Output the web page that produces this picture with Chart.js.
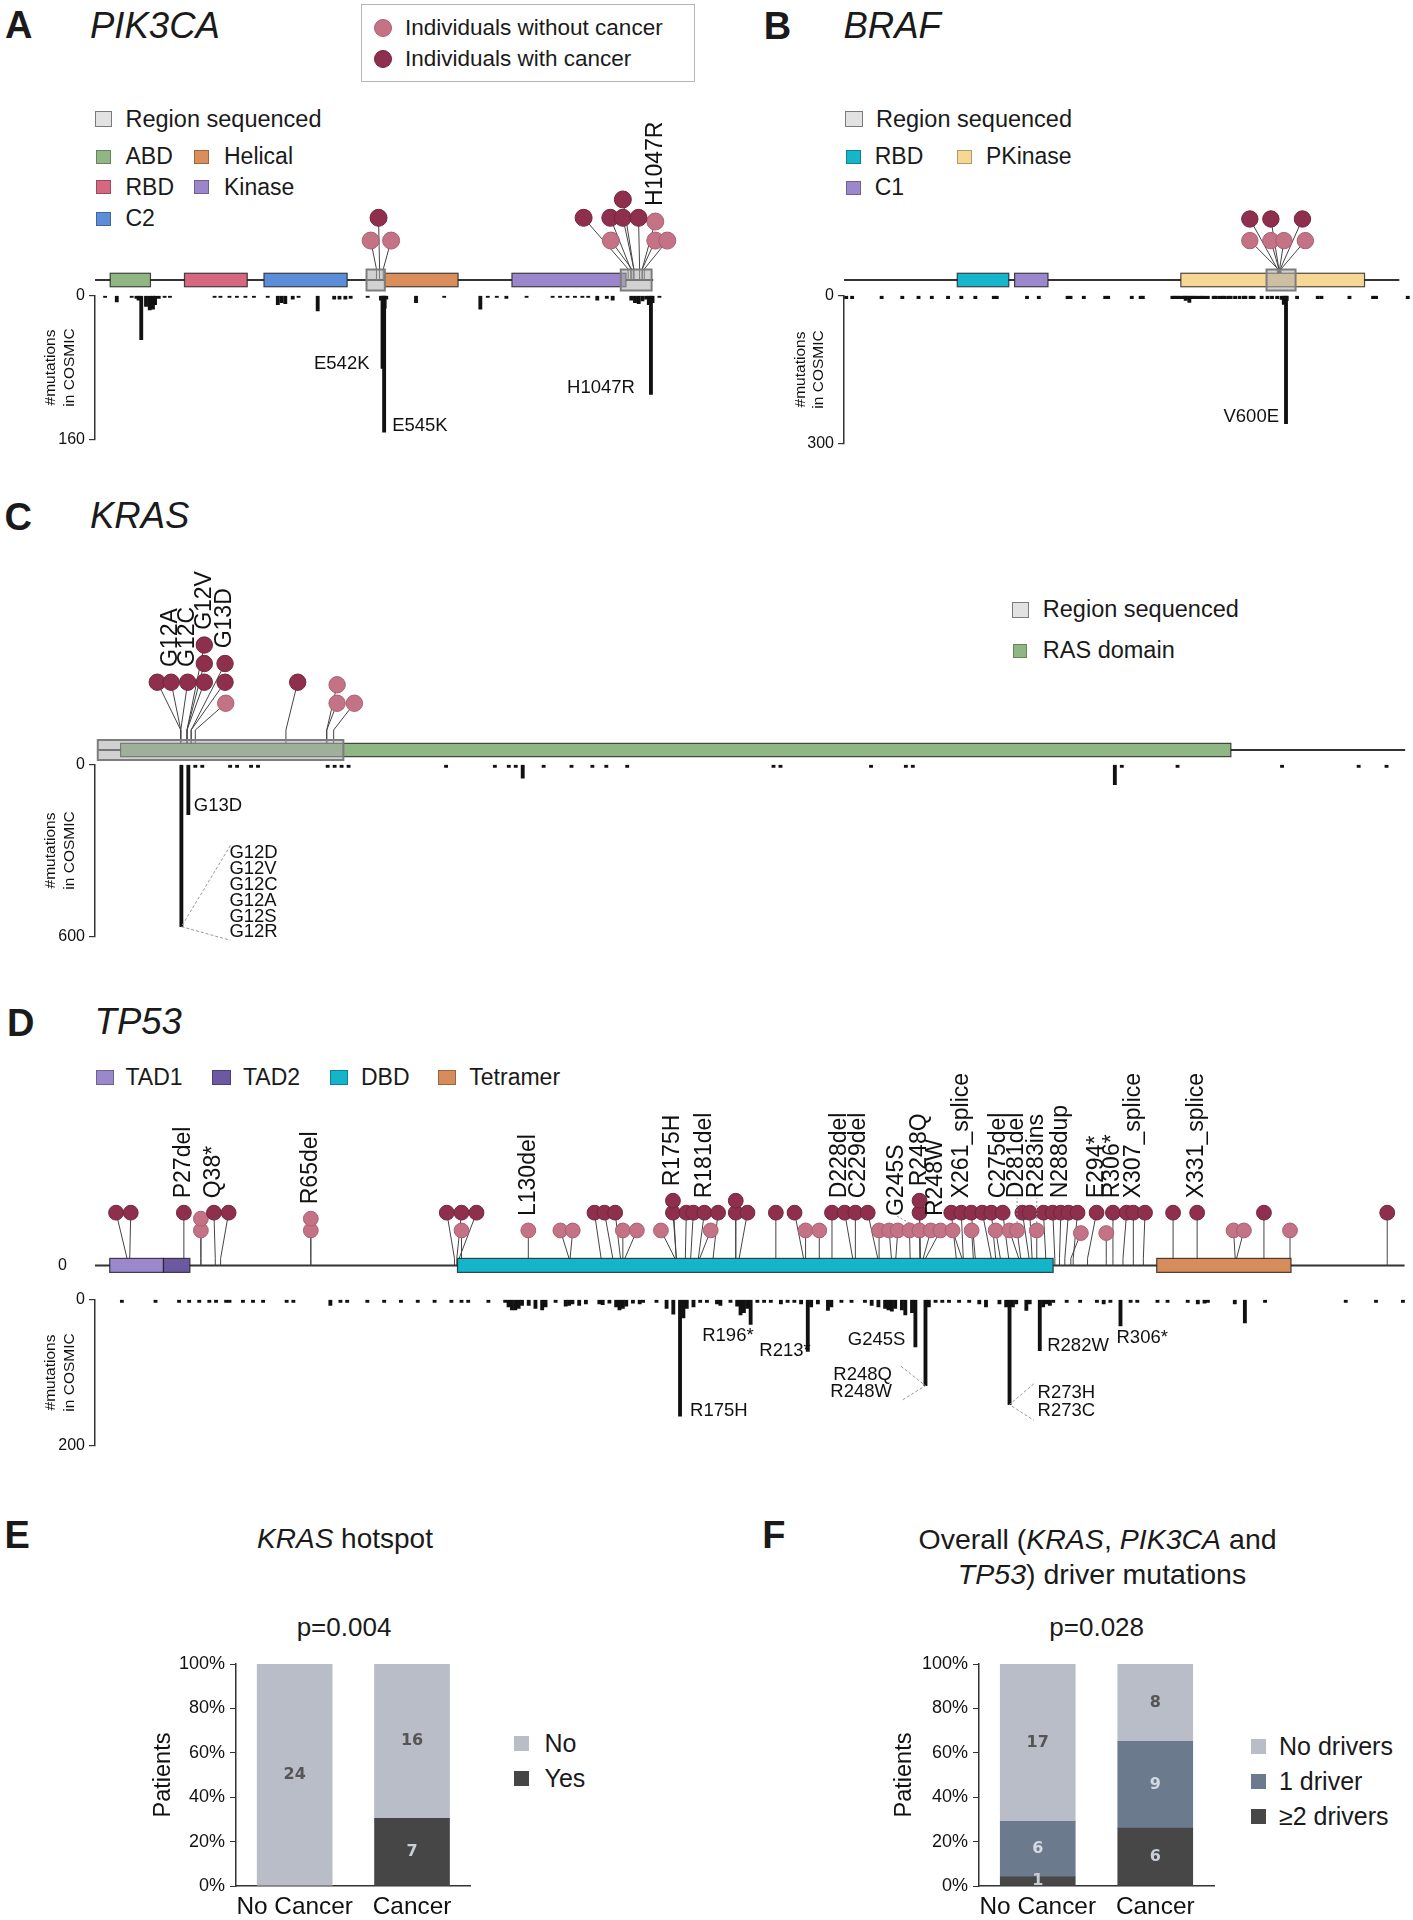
<!DOCTYPE html>
<html>
<head>
<meta charset="utf-8">
<script src="https://cdn.jsdelivr.net/npm/chart.js@4.4.1/dist/chart.umd.min.js"></script>
<style>
  body { margin: 0; background: #fff; }
  #page { position: relative; width: 1413px; height: 1920px; overflow: hidden; background: #fff;
          font-family: "Liberation Sans", Arial, sans-serif; color: #1a1a1a; }
  canvas { position: absolute; }
  .txt { position: absolute; white-space: nowrap; line-height: 1; }
  .sw { position: absolute; box-sizing: border-box; }
</style>
</head>
<body>
<div id="page"></div>
<script>
// ---------- data ----------
const darkRed = '#8E2F4D';
const lightRed = '#C47386';

// PIK3CA
const pikDomainNames = ['ABD', 'RBD', 'C2', 'Helical', 'Kinase'];
const pikDomainStart = [30, 172, 324, 555, 798];
const pikDomainEnd = [107, 292, 483, 695, 1016];
const pikDomainColors = ['#8FB683', '#D5677F', '#5B8DD8', '#D98E5B', '#9B85CB'];
const pikRegionStart = [520, 1006];
const pikRegionEnd = [555, 1065];
const pikMutPos = [545, 539, 552, 1020, 1025, 1027, 1031, 1031, 1042, 1047, 1047, 1051];
const pikMutX = [543, 528, 567, 935, 986, 987, 1010, 1010, 1040, 1072, 1072, 1095];
const pikMutLvl = [2.68, 1.7, 1.7, 2.68, 2.68, 1.7, 2.68, 3.47, 2.68, 2.52, 1.7, 1.7];
const pikMutCancer = [1, 0, 0, 1, 1, 0, 1, 1, 1, 0, 0, 0];
const pikMutLabel = ['', '', '', '', '', '', '', '', '', 'H1047R', '', ''];
const pikCosmicPos = [20, 42, 70, 79, 83, 88, 97, 104, 110, 114,
  121, 132, 142, 226, 237, 254, 268, 284, 300, 326,
  345, 352, 359, 373, 384, 420, 451, 461, 472, 482,
  514, 539, 542, 545, 546, 549, 605, 658, 726, 740,
  757, 775, 813, 862, 876, 890, 904, 918, 929, 946,
  964, 975, 1010, 1017, 1024, 1031, 1038, 1043, 1047, 1050,
  1063];
const pikCosmicCount = [2, 7, 2, 3, 5, 49, 12, 16, 15, 10,
  3, 2, 2, 2, 2, 2, 2, 2, 2, 2,
  10, 8, 9, 4, 2, 17, 4, 4, 4, 3,
  2, 5, 81, 152, 14, 4, 8, 2, 15, 2,
  2, 3, 2, 2, 2, 2, 2, 2, 2, 5,
  3, 5, 5, 8, 9, 6, 4, 10, 110, 8,
  2];
const pikHotspotText = [['E542K'], ['E545K'], ['H1047R']];
const pikHotspotPos = [542, 545, 1047];
const pikHotspotSide = ['left', 'right', 'left'];

// BRAF
const brafDomainNames = ['RBD', 'C1', 'PKinase'];
const brafDomainStart = [157, 236, 465];
const brafDomainEnd = [228, 282, 718];
const brafDomainColors = ['#16B5CB', '#9B87CC', '#F7D794'];
const brafRegionStart = [583];
const brafRegionEnd = [623];
const brafMutPos = [598, 600, 602, 599, 600, 601, 603];
const brafMutX = [560, 589, 632.5, 560, 589, 607, 636.5];
const brafMutLvl = [2.68, 2.68, 2.68, 1.73, 1.73, 1.73, 1.73];
const brafMutCancer = [1, 1, 1, 0, 0, 0, 0];
const brafMutLabel = ['', '', '', '', '', '', ''];
const brafCosmicPos = [4, 12, 52, 80, 102, 120, 142, 160, 179, 204,
  208, 249, 265, 304, 308, 326, 355, 359, 391, 403,
  406, 446, 449, 452, 455, 459, 462, 464, 466, 469,
  472, 475, 478, 482, 486, 489, 494, 502, 505, 510,
  514, 517, 522, 525, 531, 537, 543, 545, 552, 556,
  567, 575, 581, 588, 594, 597, 600, 601, 615, 643,
  648, 686, 718, 722, 765];
const brafCosmicCount = [6, 6, 6, 6, 6, 6, 6, 6, 6, 6,
  6, 6, 6, 6, 6, 6, 6, 6, 6, 6,
  6, 6, 6, 6, 6, 6, 6, 10, 8, 14,
  6, 6, 6, 6, 6, 6, 6, 6, 6, 6,
  6, 6, 6, 6, 6, 6, 6, 6, 6, 6,
  6, 6, 6, 6, 8, 18, 260, 10, 6, 6,
  6, 6, 6, 6, 6];
const brafHotspotText = [['V600E']];
const brafHotspotPos = [600];
const brafHotspotSide = ['left'];

// KRAS
const krasDomainNames = ['RAS domain'];
const krasDomainStart = [3.3];
const krasDomainEnd = [163.8];
const krasDomainColors = ['#8FB683'];
const krasRegionStart = [0];
const krasRegionEnd = [35.5];
const krasMutPos = [12, 12, 12, 12.9, 12.9, 12.9, 13.5, 13.5, 14.1, 27.2, 33.1, 33.1, 34.1];
const krasMutX = [8.6, 10.6, 13, 15.4, 15.4, 15.4, 18.4, 18.4, 18.5, 28.9, 34.6, 34.6, 37.1];
const krasMutLvl = [2.9, 2.9, 2.9, 2.9, 3.7, 4.49, 2.9, 3.7, 2.0, 2.9, 2.0, 2.79, 2.0];
const krasMutCancer = [1, 1, 1, 1, 1, 1, 1, 1, 0, 1, 0, 0, 0];
const krasMutLabel = ['', 'G12A', 'G12C', '', '', 'G12V', '', 'G13D', '', '', '', '', ''];
const krasCosmicPos = [12, 13, 14, 15, 19, 20, 22, 23, 33, 34,
  35, 36, 50, 57, 59, 60, 61, 64, 68, 71,
  73, 76, 97, 98, 111, 116, 117, 146, 147, 155,
  170, 181, 185];
const krasCosmicCount = [566, 175, 10, 10, 10, 10, 10, 10, 10, 10,
  10, 10, 10, 10, 10, 10, 47, 10, 10, 10,
  10, 10, 10, 10, 10, 10, 10, 70, 10, 10,
  10, 10, 10];
const krasHotspotText = [['G13D'], ['G12D', 'G12V', 'G12C', 'G12A', 'G12S', 'G12R']];
const krasHotspotPos = [13, 12];
const krasHotspotSide = ['right', 'right'];

// TP53
const tpDomainNames = ['TAD1', 'TAD2', 'DBD', 'Tetramer'];
const tpDomainStart = [5.4, 21.5, 109.5, 318.8];
const tpDomainEnd = [21.5, 29.4, 287.8, 359];
const tpDomainColors = ['#9B87CC', '#6D58A2', '#14B4CB', '#D78C5C'];
const tpMutX = [7.3, 11.7, 27.6, 32.7, 32.7, 36.6, 41.0, 65.6, 65.6, 106.3,
  110.7, 115.2, 110.7, 130.7, 140.3, 144.0, 150.5, 153.5, 156.7, 159.0,
  163.2, 170.4, 174.0, 174.0, 178.0, 180.1, 183.4, 185.3, 187.5, 192.8,
  192.8, 196.3, 204.8, 210.4, 213.7, 217.8, 221.6, 225.4, 228.6, 232.3,
  235.7, 238.7, 241.3, 244.8, 247.8, 247.8, 247.8, 251.2, 254.1, 257.7,
  257.3, 260.3, 263.3, 263.4, 266.6, 269.3, 270.6, 272.7, 274.7, 277.0,
  278.6, 280.8, 282.9, 284.9, 287.7, 290.1, 292.4, 295.1, 296.1, 300.8,
  303.7, 305.7, 309.8, 311.8, 315.3, 323.7, 330.9, 341.8, 344.9, 350.9,
  358.7, 387.8];
const tpMutPos = [10.6, 11.4, 27.6, 32.7, 32.7, 37.0, 38.6, 65.6, 65.6, 108.6,
  109.3, 110.0, 110.7, 130.7, 142.9, 143.2, 152.5, 156.0, 158.3, 159.0,
  159.6, 174.6, 175, 175, 177.7, 179.3, 181.6, 182.0, 186.0, 192.8,
  192.8, 193.8, 204.8, 213.1, 213.7, 217.8, 221.6, 227.8, 228.6, 235.3,
  235.7, 239.4, 240.7, 245, 248, 248, 248, 248.9, 249.6, 260.5,
  258.8, 260.9, 264.5, 263.9, 269.3, 270.6, 272.0, 274.5, 277.5, 278.1,
  280.6, 281.5, 282.9, 285.6, 288.3, 289.7, 291.3, 293.8, 293.1, 298.1,
  303.7, 305.7, 308.7, 311.8, 314.8, 323.7, 330.9, 342.3, 342.7, 350.9,
  358.7, 387.8];
const tpMutLvl = [2.82, 2.82, 2.82, 1.87, 2.5, 2.82, 2.82, 1.87, 2.5, 2.82,
  2.82, 2.82, 1.87, 1.87, 1.87, 1.87, 2.82, 2.82, 2.82, 1.87,
  1.87, 1.87, 2.82, 3.46, 2.82, 2.82, 2.82, 1.87, 2.82, 2.82,
  3.46, 2.82, 2.82, 2.82, 1.87, 1.87, 2.82, 2.82, 2.82, 2.82,
  1.87, 1.87, 1.87, 1.87, 1.87, 2.82, 3.46, 1.87, 1.87, 1.87,
  2.82, 2.82, 2.82, 1.87, 2.82, 2.82, 1.87, 2.82, 1.87, 1.87,
  2.82, 2.82, 1.87, 2.82, 2.82, 2.82, 2.82, 2.82, 1.73, 2.82,
  1.73, 2.82, 2.82, 2.82, 2.82, 2.82, 2.82, 1.87, 1.87, 2.82,
  1.87, 2.82];
const tpMutCancer = [1, 1, 1, 0, 0, 1, 1, 0, 0, 1,
  1, 1, 0, 0, 0, 0, 1, 1, 1, 0,
  0, 0, 1, 1, 1, 1, 1, 0, 1, 1,
  1, 1, 1, 1, 0, 0, 1, 1, 1, 1,
  0, 0, 0, 0, 0, 1, 1, 0, 0, 0,
  1, 1, 1, 0, 1, 1, 0, 1, 0, 0,
  1, 1, 0, 1, 1, 1, 1, 1, 0, 1,
  0, 1, 1, 1, 1, 1, 1, 0, 0, 1,
  0, 1];
const tpMutLabel = ['', '', 'P27del', '', '', 'Q38*', '', '', 'R65del', '',
  '', '', '', 'L130del', '', '', '', '', '', '',
  '', '', '', 'R175H', '', '', 'R181del', '', '', '',
  '', '', '', '', '', '', '', 'D228del', 'C229del', '',
  '', '', '', 'G245S', '', '', 'R248Q', 'R248W', '', '',
  '', 'X261_splice', '', '', '', '', '', 'C275del', '', 'D281del',
  '', '', 'R283ins', '', '', 'N288dup', '', '', '', 'E294*',
  '', 'R306*', '', 'X307_splice', '', '', 'X331_splice', '', '', '',
  '', ''];
const tpCosmicPos = [9, 19, 26, 29, 32, 35, 37, 40, 41, 45,
  48, 51, 58, 60, 71, 74, 76, 82, 87, 92,
  97, 102, 107, 110, 112, 118, 123, 124, 125, 126,
  127, 128, 130, 132, 134, 135, 138, 141, 142, 143,
  145, 147, 151, 152, 154, 156, 157, 158, 159, 161,
  163, 164, 168, 171, 173, 175, 176, 177, 179, 181,
  183, 186, 187, 190, 192, 193, 194, 195, 196, 198,
  200, 202, 205, 207, 209, 211, 213, 214, 216, 219,
  220, 223, 226, 230, 232, 234, 236, 237, 238, 239,
  241, 242, 244, 245, 248, 249, 251, 253, 255, 258,
  261, 264, 266, 270, 272, 273, 274, 275, 278, 279,
  282, 283, 284, 285, 286, 290, 294, 299, 301, 303,
  306, 309, 311, 317, 320, 326, 329, 331, 332, 340,
  343, 349, 373, 382, 390];
const tpCosmicCount = [4, 4, 4, 4, 4, 4, 4, 4, 4, 4,
  4, 4, 4, 4, 8, 4, 4, 4, 4, 4,
  4, 4, 4, 4, 4, 4, 4, 10, 14, 14,
  12, 8, 8, 12, 14, 10, 4, 9, 8, 6,
  8, 6, 6, 7, 5, 10, 14, 12, 9, 5,
  6, 4, 4, 12, 20, 160, 25, 12, 10, 4,
  4, 6, 8, 4, 9, 21, 18, 12, 34, 4,
  4, 4, 6, 4, 4, 6, 71, 10, 6, 15,
  10, 4, 4, 4, 8, 10, 12, 14, 16, 12,
  14, 21, 18, 65, 118, 10, 4, 4, 4, 4,
  4, 6, 10, 6, 10, 144, 10, 6, 15, 6,
  70, 10, 6, 8, 4, 4, 4, 4, 6, 4,
  36, 4, 4, 4, 4, 4, 6, 5, 4, 6,
  32, 4, 4, 4, 4];
const tpHotspotText = [['R175H'], ['R196*'], ['R213*'], ['G245S'], ['R248Q', 'R248W'],
  ['R273H', 'R273C'], ['R282W'], ['R306*']];
const tpHotspotPos = [175, 196, 213, 245, 248, 273, 282, 306];
const tpHotspotSide = ['right', 'left', 'left', 'left', 'left', 'right', 'right', 'right'];

// E and F
const groups = ['No Cancer', 'Cancer'];
const eSeriesNames = ['Yes', 'No'];
const eYes = [0, 7];
const eNo = [24, 16];
const fSeriesNames = ['\u22652 drivers', '1 driver', 'No drivers'];
const fTwoPlus = [1, 6];
const fOne = [6, 9];
const fNone = [17, 8];

// ---------- helpers ----------
const page = document.getElementById('page');
const U = 24.5;   // px per stacking unit in the lollipop panels
Chart.defaults.font.family = '"Liberation Sans", Arial, sans-serif';
Chart.defaults.color = '#111';

function addText(html, x, y, size, o = {}) {
  const d = document.createElement('div');
  d.className = 'txt';
  d.innerHTML = html;
  d.style.left = x + 'px';
  d.style.top = (y - size / 2) + 'px';
  d.style.fontSize = size + 'px';
  if (o.bold) d.style.fontWeight = 'bold';
  if (o.italic) d.style.fontStyle = 'italic';
  if (o.center) d.style.transform = 'translateX(-50%)';
  page.appendChild(d);
}

function addSwatch(x, y, w, h, color, border, round) {
  const d = document.createElement('div');
  d.className = 'sw';
  Object.assign(d.style, {left: x + 'px', top: y + 'px', width: w + 'px', height: h + 'px',
    background: color, border: border || '1px solid rgba(0,0,0,0.28)'});
  if (round) d.style.borderRadius = '50%';
  page.appendChild(d);
}

function makeCanvas(left, top, w, h) {
  const c = document.createElement('canvas');
  c.width = w;
  c.height = h;
  c.style.left = left + 'px';
  c.style.top = top + 'px';
  c.style.width = w + 'px';
  c.style.height = h + 'px';
  page.appendChild(c);
  return c;
}

function proteinPlugin(p) {
  return {
    id: 'protein',
    beforeDatasetsDraw(chart) {
      const ctx = chart.ctx, x = chart.scales.x, y = chart.scales.y;
      const base = y.getPixelForValue(0);
      ctx.save();
      ctx.strokeStyle = '#333';
      ctx.lineWidth = 2;
      ctx.beginPath();
      ctx.moveTo(x.getPixelForValue(p.start), base);
      ctx.lineTo(x.getPixelForValue(p.end), base);
      ctx.stroke();

      // stems
      ctx.strokeStyle = '#444';
      ctx.lineWidth = 1;
      p.cx.forEach((v, i) => {
        const bx = x.getPixelForValue(p.pos[i]);
        ctx.beginPath();
        ctx.moveTo(x.getPixelForValue(v), y.getPixelForValue(p.lvl[i]));
        ctx.lineTo(bx, base - p.kink);
        ctx.lineTo(bx, base);
        ctx.stroke();
      });

      // domains
      p.domStart.forEach((s, i) => {
        const x0 = x.getPixelForValue(s), x1 = x.getPixelForValue(p.domEnd[i]);
        ctx.fillStyle = p.domColors[i];
        ctx.fillRect(x0, base - p.boxH / 2, x1 - x0, p.boxH);
        ctx.strokeStyle = 'rgba(30,30,30,0.8)';
        ctx.lineWidth = 1.2;
        ctx.strokeRect(x0, base - p.boxH / 2, x1 - x0, p.boxH);
      });

      // sequenced regions
      (p.regStart || []).forEach((s, i) => {
        const x0 = x.getPixelForValue(s), x1 = x.getPixelForValue(p.regEnd[i]);
        ctx.fillStyle = 'rgba(172,172,172,0.55)';
        ctx.fillRect(x0, base - p.regH / 2, x1 - x0, p.regH);
        ctx.strokeStyle = '#7d7d7d';
        ctx.lineWidth = 2;
        ctx.strokeRect(x0, base - p.regH / 2, x1 - x0, p.regH);
      });
      ctx.restore();
    },
    afterDatasetsDraw(chart) {
      const ctx = chart.ctx, x = chart.scales.x, y = chart.scales.y;
      const r = p.radius;
      ctx.save();
      ctx.font = '23px "Liberation Sans", Arial, sans-serif';
      ctx.fillStyle = '#111';
      p.label.forEach((lab, i) => {
        if (!lab) return;
        const cx = x.getPixelForValue(p.cx[i]);
        const own = y.getPixelForValue(p.lvl[i]) - r;
        let top = own;
        p.cx.forEach((v, j) => {
          if (Math.abs(x.getPixelForValue(v) - cx) < r) {
            top = Math.min(top, y.getPixelForValue(p.lvl[j]) - r);
          }
        });
        const lx = cx + ((p.shift && p.shift[lab]) || 0);
        const ly = top - 7;
        if (top < own - 1 || Math.abs(lx - cx) > 6) {
          ctx.save();
          ctx.strokeStyle = '#8a8a8a';
          ctx.lineWidth = 1;
          ctx.setLineDash([2, 2]);
          ctx.beginPath();
          ctx.moveTo(cx, own);
          ctx.lineTo(lx, ly);
          ctx.stroke();
          ctx.restore();
        }
        ctx.save();
        ctx.translate(lx, ly);
        ctx.rotate(-Math.PI / 2);
        ctx.textAlign = 'left';
        ctx.textBaseline = 'middle';
        ctx.fillText(lab, 0, 0);
        ctx.restore();
      });
      ctx.restore();
    }
  };
}

function lollipop(canvas, p, xmin, xmax, axisW, padBottom, showZero) {
  const ymax = (canvas.height - padBottom) / U;
  const pick = flag => p.cx.map((v, i) => ({x: v, y: p.lvl[i], c: p.cancer[i]})).filter(d => d.c === flag);
  return new Chart(canvas, {
    type: 'scatter',
    data: {
      datasets: [
        {label: 'Individuals with cancer', data: pick(1), pointRadius: p.radius,
         pointBackgroundColor: darkRed, pointBorderColor: '#74243E', pointBorderWidth: 1, clip: false},
        {label: 'Individuals without cancer', data: pick(0), pointRadius: p.radius,
         pointBackgroundColor: lightRed, pointBorderColor: '#A85F71', pointBorderWidth: 1, clip: false}
      ]
    },
    options: {
      animation: false, responsive: false, events: [],
      layout: {padding: {top: 0, right: 0, bottom: padBottom, left: 0}},
      plugins: {legend: {display: false}, tooltip: {enabled: false}},
      scales: {
        x: {type: 'linear', min: xmin, max: xmax, display: false},
        y: {type: 'linear', min: 0, max: ymax,
            afterBuildTicks: s => { s.ticks = [{value: 0}]; },
            afterFit: s => { s.width = axisW; },
            grid: {display: false, drawTicks: false},
            border: {display: false},
            ticks: {display: showZero, padding: 28, font: {size: 16}, color: '#111'}}
      }
    },
    plugins: [proteinPlugin(p)]
  });
}

function cosmicLabels(lab) {
  return {
    id: 'cosmicLabels',
    afterDatasetsDraw(chart) {
      const ctx = chart.ctx, x = chart.scales.x, y = chart.scales.y;
      ctx.save();
      ctx.font = '18.5px "Liberation Sans", Arial, sans-serif';
      ctx.fillStyle = '#111';
      ctx.textBaseline = 'middle';
      lab.text.forEach((lines, i) => {
        const st = lab.style[i];
        const bx = x.getPixelForValue(lab.pos[i]);
        const by = y.getPixelForValue(lab.counts[lab.positions.indexOf(lab.pos[i])]);
        const left = lab.side[i] === 'left';
        const tx = left ? bx - st.dx : bx + st.dx;
        const lh = st.lh || 0;
        ctx.textAlign = left ? 'right' : 'left';
        lines.forEach((t, k) => ctx.fillText(t, tx, by + st.dy + k * lh));
        if (lines.length > 1) {
          const fx = left ? tx + st.fx : tx - st.fx;
          const y0 = by + st.dy - lh / 2;
          const y1 = by + st.dy + (lines.length - 1) * lh + lh / 2;
          ctx.save();
          ctx.strokeStyle = '#9a9a9a';
          ctx.lineWidth = 1;
          ctx.setLineDash([3, 2]);
          ctx.beginPath();
          ctx.moveTo(fx, y0);
          ctx.lineTo(bx, by);
          ctx.lineTo(fx, y1);
          ctx.stroke();
          ctx.restore();
        }
      });
      ctx.restore();
    }
  };
}

function cosmic(canvas, positions, counts, xmin, xmax, ymax, axisW, titlePad, lab) {
  lab.positions = positions;
  lab.counts = counts;
  return new Chart(canvas, {
    type: 'bar',
    data: {datasets: [{data: positions.map((v, i) => ({x: v, y: counts[i]})), backgroundColor: '#111', barThickness: 3.2}]},
    options: {
      animation: false, responsive: false, events: [],
      layout: {padding: {top: 10, bottom: 10, left: 0, right: 0}},
      plugins: {legend: {display: false}, tooltip: {enabled: false}},
      scales: {
        x: {type: 'linear', min: xmin, max: xmax, display: false, offset: false},
        y: {min: 0, max: ymax, reverse: true,
            afterBuildTicks: s => { s.ticks = [{value: 0}, {value: ymax}]; },
            afterFit: s => { s.width = axisW; },
            grid: {drawOnChartArea: false, tickLength: 6, color: '#333', lineWidth: 1.2},
            border: {color: '#333', width: 1.5},
            ticks: {padding: 4, font: {size: 16}, color: '#111'},
            title: {display: true, text: ['#mutations', 'in COSMIC'], color: '#111',
                    font: {size: 15.5, lineHeight: 1.19}, padding: {top: titlePad, bottom: 0}}}
      }
    },
    plugins: [cosmicLabels(lab)]
  });
}

function countLabels(series, textColors) {
  return {
    id: 'countLabels',
    afterDatasetsDraw(chart) {
      const ctx = chart.ctx;
      ctx.save();
      ctx.font = 'bold 16px "DejaVu Sans", sans-serif';
      ctx.textAlign = 'center';
      ctx.textBaseline = 'middle';
      series.forEach((arr, k) => {
        chart.getDatasetMeta(k).data.forEach((bar, i) => {
          if (!arr[i]) return;
          ctx.fillStyle = textColors[k];
          ctx.fillText(String(arr[i]), bar.x, (bar.y + bar.base) / 2);
        });
      });
      ctx.restore();
    }
  };
}

function stacked(canvas, series, names, colors, textColors, axisW, titlePad, padRight) {
  const totals = groups.map((g, i) => series.reduce((s, arr) => s + arr[i], 0));
  return new Chart(canvas, {
    type: 'bar',
    data: {
      labels: groups,
      datasets: series.map((arr, k) => ({label: names[k], data: arr.map((v, i) => v / totals[i] * 100),
        backgroundColor: colors[k], barThickness: 75}))
    },
    options: {
      animation: false, responsive: false, events: [],
      layout: {padding: {top: 24, right: padRight, bottom: 0, left: 0}},
      plugins: {legend: {display: false}, tooltip: {enabled: false}},
      scales: {
        x: {stacked: true, grid: {display: false, drawTicks: false}, border: {color: '#333', width: 1.5},
            ticks: {font: {size: 24.4}, color: '#111', padding: 7, autoSkip: false, maxRotation: 0, minRotation: 0},
            afterFit: s => { s.height = 34; }},
        y: {stacked: true, min: 0, max: 100,
            ticks: {stepSize: 20, callback: v => v + '%', font: {size: 18}, color: '#111', padding: 5},
            grid: {drawOnChartArea: false, tickLength: 6, color: '#333'},
            border: {color: '#333', width: 1.5},
            title: {display: true, text: 'Patients', font: {size: 23.5}, color: '#111', padding: {top: titlePad, bottom: 0}},
            afterFit: s => { s.width = axisW; }}
      }
    },
    plugins: [countLabels(series, textColors)]
  });
}

// ---------- text, legends ----------
const regionSwatch = ['#E2E2E2', '1.5px solid #7a7a7a'];

addText('A', 5, 25, 38, {bold: true});
addText('PIK3CA', 90, 26, 36.5, {italic: true});
addSwatch(361, 4, 334, 78, 'transparent', '1.5px solid #b5b5b5');
addSwatch(374, 19, 18, 18, lightRed, '1px solid #A85F71', true);
addText('Individuals without cancer', 405, 28, 22.5);
addSwatch(374, 50, 18, 18, darkRed, '1px solid #74243E', true);
addText('Individuals with cancer', 405, 59, 22.5);
addSwatch(95, 111, 17, 16, regionSwatch[0], regionSwatch[1]);
addText('Region sequenced', 125.5, 119.3, 23.5);
[[0, 95.5, 156.7], [3, 194, 156.7], [1, 95.5, 187.3], [4, 194, 187.3], [2, 95.5, 218.7]].forEach(([k, lx, ly]) => {
  addSwatch(lx, ly - 7, 15, 14, pikDomainColors[k]);
  addText(pikDomainNames[k], lx + 30, ly, 23);
});

addText('B', 763.7, 26, 38, {bold: true});
addText('BRAF', 843.5, 26, 36.5, {italic: true});
addSwatch(844.5, 111, 18, 16, regionSwatch[0], regionSwatch[1]);
addText('Region sequenced', 876, 119.3, 23.5);
[[0, 845.7, 156.7], [2, 957, 156.7], [1, 845.7, 187.7]].forEach(([k, lx, ly]) => {
  addSwatch(lx, ly - 7, 15, 14, brafDomainColors[k]);
  addText(brafDomainNames[k], lx + 29, ly, 23);
});

addText('C', 4.6, 516.7, 38, {bold: true});
addText('KRAS', 90, 516.7, 36.5, {italic: true});
addSwatch(1011.7, 601.5, 17.3, 16, regionSwatch[0], regionSwatch[1]);
addText('Region sequenced', 1042.8, 609.7, 23.5);
addSwatch(1012.6, 644.3, 14.6, 13.5, krasDomainColors[0]);
addText(krasDomainNames[0], 1042.8, 651, 23.5);

addText('D', 6.9, 1022.5, 38, {bold: true});
addText('TP53', 94.6, 1022.5, 36.5, {italic: true});
[[0, 95.5, 125.5], [1, 212, 243], [2, 329.5, 361], [3, 437.5, 469.3]].forEach(([k, sx, tx]) => {
  addSwatch(sx, 1070, 18.5, 14.5, tpDomainColors[k]);
  addText(tpDomainNames[k], tx, 1077, 23);
});

addText('E', 4.6, 1535, 38, {bold: true});
addText('F', 762.2, 1535, 38, {bold: true});
addText('<i>KRAS</i> hotspot', 345, 1539, 28, {center: true});
addText('p=0.004', 344, 1627, 26, {center: true});
addText('Overall (<i>KRAS</i>, <i>PIK3CA</i> and', 1097.6, 1539, 28.5, {center: true});
addText('<i>TP53</i>) driver mutations', 1102, 1574, 28.5, {center: true});
addText('p=0.028', 1096.7, 1627, 26, {center: true});

const eColors = ['#464646', '#B8BDC8'];
const fColors = ['#474747', '#6C7A8E', '#B8BDC8'];
[[1, 1743], [0, 1778]].forEach(([k, ly]) => {
  addSwatch(513.6, ly - 7.5, 15, 15, eColors[k], 'none');
  addText(eSeriesNames[k], 544.5, ly, 25);
});
[[2, 1746.5], [1, 1781.5], [0, 1816.5]].forEach(([k, ly]) => {
  addSwatch(1251, ly - 7.2, 14.5, 14.5, fColors[k], 'none');
  addText(fSeriesNames[k], 1279, ly, 25);
});

// ---------- charts ----------
lollipop(makeCanvas(0, 100, 700, 200), {
  start: 1, end: 1068, domStart: pikDomainStart, domEnd: pikDomainEnd, domColors: pikDomainColors,
  regStart: pikRegionStart, regEnd: pikRegionEnd, pos: pikMutPos, cx: pikMutX, lvl: pikMutLvl,
  cancer: pikMutCancer, label: pikMutLabel, radius: 8.5, kink: 11, boxH: 13.5, regH: 21
}, 1, 1139.3, 95, 20, false);
cosmic(makeCanvas(0, 282, 700, 171), pikCosmicPos, pikCosmicCount, 1, 1139.3, 160, 95, 41.6, {
  text: pikHotspotText, pos: pikHotspotPos, side: pikHotspotSide,
  style: [{dx: 13, dy: -4}, {dx: 8, dy: -6}, {dx: 16, dy: -7}]
});

lollipop(makeCanvas(740, 150, 673, 150), {
  start: 1, end: 766, domStart: brafDomainStart, domEnd: brafDomainEnd, domColors: brafDomainColors,
  regStart: brafRegionStart, regEnd: brafRegionEnd, pos: brafMutPos, cx: brafMutX, lvl: brafMutLvl,
  cancer: brafMutCancer, label: brafMutLabel, radius: 8.2, kink: 11, boxH: 13.5, regH: 21
}, 1, 772.1, 104, 20, false);
cosmic(makeCanvas(740, 282, 673, 175), brafCosmicPos, brafCosmicCount, 1, 772.1, 300, 104, 51.2, {
  text: brafHotspotText, pos: brafHotspotPos, side: brafHotspotSide,
  style: [{dx: 7, dy: -7}]
});

lollipop(makeCanvas(0, 550, 1413, 220), {
  start: 0, end: 189, domStart: krasDomainStart, domEnd: krasDomainEnd, domColors: krasDomainColors,
  regStart: krasRegionStart, regEnd: krasRegionEnd, pos: krasMutPos, cx: krasMutX, lvl: krasMutLvl,
  cancer: krasMutCancer, label: krasMutLabel, radius: 8.2, kink: 20, boxH: 13.3, regH: 20
}, -0.4, 188.8, 95, 20, false);
cosmic(makeCanvas(0, 751, 1413, 199), krasCosmicPos, krasCosmicCount, -0.4, 188.8, 600, 95, 41.6, {
  text: krasHotspotText, pos: krasHotspotPos, side: krasHotspotSide,
  style: [{dx: 5.5, dy: -9}, {dx: 48, dy: -73.3, lh: 15.8, fx: -1}]
});

lollipop(makeCanvas(0, 1050, 1413, 253), {
  start: 1, end: 393, domStart: tpDomainStart, domEnd: tpDomainEnd, domColors: tpDomainColors,
  pos: tpMutPos, cx: tpMutX, lvl: tpMutLvl, cancer: tpMutCancer, label: tpMutLabel,
  radius: 7.4, kink: 7, boxH: 14, regH: 0,
  shift: {'G245S': -13, 'R248W': 5, 'D228del': -5, 'C229del': 3, 'C275del': -4}
}, 1, 393, 95, 20, true);
cosmic(makeCanvas(0, 1286, 1413, 173), tpCosmicPos, tpCosmicCount, 1, 393, 200, 95, 41.6, {
  text: tpHotspotText, pos: tpHotspotPos, side: tpHotspotSide,
  style: [{dx: 10, dy: -5}, {dx: -3, dy: 12}, {dx: -3, dy: 0}, {dx: 10, dy: -7},
          {dx: 33.5, dy: -10.7, lh: 17.3, fx: 9}, {dx: 28, dy: -11.7, lh: 18.3, fx: 3.7},
          {dx: 7.4, dy: -5}, {dx: -4, dy: 12}]
});

stacked(makeCanvas(140, 1640, 340, 280), [eYes, eNo], eSeriesNames, eColors,
  ['#C9CED6', '#555'], 96, 9.9, 9.3);
stacked(makeCanvas(880, 1640, 345, 280), [fTwoPlus, fOne, fNone], fSeriesNames, fColors,
  ['#C9CED6', '#D5DAE2', '#555'], 99, 10.4, 11);
</script>
</body>
</html>
